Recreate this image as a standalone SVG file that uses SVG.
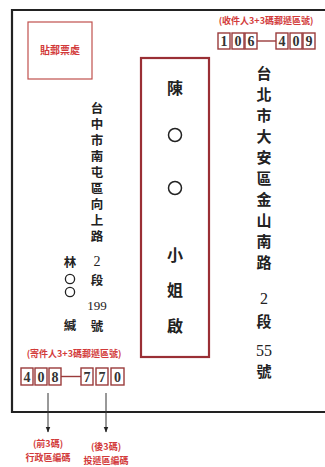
<svg xmlns="http://www.w3.org/2000/svg" width="325" height="467" viewBox="0 0 325 467">
<defs>
<style>
.cjk{font-family:"Noto Sans CJK TC","Noto Sans CJK SC",sans-serif;fill:#222;text-anchor:middle;font-weight:bold}
.vt{font-family:"Noto Sans CJK TC","Noto Sans CJK SC",sans-serif;fill:#222;font-weight:bold;writing-mode:vertical-rl}
.num{font-family:"Liberation Serif",serif;fill:#222;text-anchor:middle}
.red{font-family:"Noto Sans CJK TC","Noto Sans CJK SC",sans-serif;fill:#d23a3a;text-anchor:middle;font-weight:bold}
.pbox{fill:#fff;stroke:#9a3b3b;stroke-width:1.4}
.pd{font-family:"Liberation Serif",serif;font-weight:bold;fill:#333;text-anchor:middle;font-size:14px}
.arrow{stroke:#333;stroke-width:1;fill:none}
</style>
<marker id="ah" viewBox="0 0 10 10" refX="9" refY="5" markerWidth="6" markerHeight="6" orient="auto">
<path d="M0,1 L10,5 L0,9 z" fill="#222"/>
</marker>
</defs>
<rect width="325" height="467" fill="#fff"/>
<g id="envelope">
<path d="M325,10 H12 V412 H325" fill="none" stroke="#222" stroke-width="2.2"/>
</g>
<g id="stamp">
<rect x="28" y="22" width="64" height="57" fill="#fff" stroke="#c0504d" stroke-width="1.2"/>
<text class="red" x="60" y="54" font-size="10">貼郵票處</text>
</g>
<g id="recipient-zip">
<text class="red" x="266" y="24" font-size="9">(收件人3+3碼郵遞區號)</text>
<rect class="pbox" x="218" y="33" width="12" height="16"/>
<rect class="pbox" x="232" y="33" width="12" height="16"/>
<rect class="pbox" x="245" y="33" width="12" height="16"/>
<line x1="257" y1="41" x2="276" y2="41" stroke="#9a3b3b" stroke-width="1.4"/>
<rect class="pbox" x="276" y="33" width="12" height="16"/>
<rect class="pbox" x="290" y="33" width="12" height="16"/>
<rect class="pbox" x="303" y="33" width="12" height="16"/>
<text class="pd" x="224" y="46">1</text>
<text class="pd" x="238" y="46">0</text>
<text class="pd" x="251" y="46">6</text>
<text class="pd" x="282" y="46">4</text>
<text class="pd" x="296" y="46">0</text>
<text class="pd" x="309" y="46">9</text>
</g>
<g id="recipient-name">
<rect x="141" y="58" width="68" height="299" fill="#fff" stroke="#9a2f35" stroke-width="2.2"/>
<text class="cjk" x="175" y="94" font-size="16">陳</text>
<circle cx="175" cy="135" r="6.5" fill="none" stroke="#222" stroke-width="1.5"/>
<circle cx="175" cy="188" r="6.5" fill="none" stroke="#222" stroke-width="1.5"/>
<text class="cjk" x="175" y="261" font-size="16">小</text>
<text class="cjk" x="175" y="296" font-size="16">姐</text>
<text class="cjk" x="175" y="332" font-size="16">啟</text>
</g>
<g id="recipient-address">
<text class="cjk" x="264" y="79" font-size="15">台</text>
<text class="cjk" x="264" y="100" font-size="15">北</text>
<text class="cjk" x="264" y="121" font-size="15">市</text>
<text class="cjk" x="264" y="142" font-size="15">大</text>
<text class="cjk" x="264" y="163" font-size="15">安</text>
<text class="cjk" x="264" y="184" font-size="15">區</text>
<text class="cjk" x="264" y="205" font-size="15">金</text>
<text class="cjk" x="264" y="226" font-size="15">山</text>
<text class="cjk" x="264" y="247" font-size="15">南</text>
<text class="cjk" x="264" y="268" font-size="15">路</text>
<text class="num" x="264" y="304" font-size="16">2</text>
<text class="cjk" x="264" y="327" font-size="15">段</text>
<text class="num" x="264" y="356" font-size="16">55</text>
<text class="cjk" x="264" y="377" font-size="15">號</text>
</g>
<g id="sender-address">
<text class="vt" x="97" y="102" font-size="12.5" letter-spacing="3.5">台中市南屯區向上路</text>
<text class="num" x="97" y="266" font-size="14">2</text>
<text class="cjk" x="97" y="285" font-size="12.5">段</text>
<text class="num" x="97" y="310" font-size="13">199</text>
<text class="cjk" x="97" y="331" font-size="12.5">號</text>
</g>
<g id="sender-name">
<text class="cjk" x="70" y="267" font-size="12.5">林</text>
<circle cx="70" cy="279" r="4.6" fill="none" stroke="#222" stroke-width="1.3"/>
<circle cx="70" cy="292" r="4.6" fill="none" stroke="#222" stroke-width="1.3"/>
<text class="cjk" x="70" y="330" font-size="12.5">緘</text>
</g>
<g id="sender-zip">
<text class="red" x="74" y="357" font-size="9">(寄件人3+3碼郵遞區號)</text>
<rect class="pbox" x="21" y="368" width="12" height="17"/>
<rect class="pbox" x="35" y="368" width="12" height="17"/>
<rect class="pbox" x="49" y="368" width="12" height="17"/>
<line x1="61" y1="376.5" x2="81" y2="376.5" stroke="#9a3b3b" stroke-width="1.4"/>
<rect class="pbox" x="81" y="368" width="12" height="17"/>
<rect class="pbox" x="96" y="368" width="12" height="17"/>
<rect class="pbox" x="111" y="368" width="13" height="17"/>
<text class="pd" x="27" y="381.5">4</text>
<text class="pd" x="41" y="381.5">0</text>
<text class="pd" x="55" y="381.5">8</text>
<text class="pd" x="87" y="381.5">7</text>
<text class="pd" x="102" y="381.5">7</text>
<text class="pd" x="117.5" y="381.5">0</text>
</g>
<g id="connectors">
<line class="arrow" x1="48" y1="393" x2="48" y2="432" marker-end="url(#ah)"/>
<line class="arrow" x1="106" y1="393" x2="106" y2="432" marker-end="url(#ah)"/>
</g>
<g id="labels">
<text class="red" x="48" y="447" font-size="9">(前3碼)</text>
<text class="red" x="48" y="461" font-size="9">行政區編碼</text>
<text class="red" x="106" y="450" font-size="9">(後3碼)</text>
<text class="red" x="106" y="464" font-size="9">投遞區編碼</text>
</g>
</svg>
